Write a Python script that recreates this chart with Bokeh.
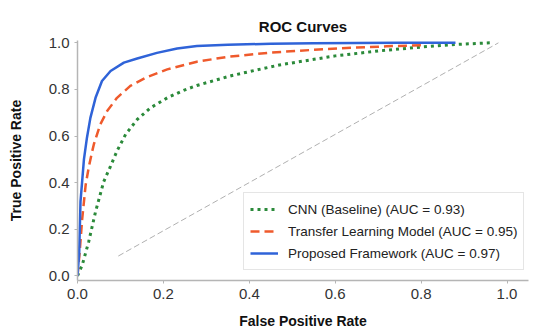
from bokeh.plotting import figure
from bokeh.models import FixedTicker, Range1d, Legend, LegendItem
from bokeh.embed import file_html
from bokeh.resources import INLINE

# ---- data ----
cnn_fpr = [0, 0.011, 0.026, 0.042, 0.061, 0.077, 0.092, 0.112, 0.139, 0.170, 0.209, 0.247, 0.278,
           0.36, 0.47, 0.6, 0.7, 0.8, 0.88, 0.96]
cnn_tpr = [0, 0.046, 0.146, 0.275, 0.404, 0.471, 0.536, 0.607, 0.671, 0.721, 0.764, 0.796, 0.817,
           0.86, 0.905, 0.944, 0.965, 0.982, 0.993, 1.0]

tl_fpr = [0, 0.005, 0.011, 0.019, 0.026, 0.034, 0.038, 0.053, 0.069, 0.092, 0.123, 0.162, 0.209,
          0.278, 0.35, 0.45, 0.55, 0.65, 0.72, 0.8]
tl_tpr = [0, 0.10, 0.246, 0.39, 0.464, 0.533, 0.564, 0.65, 0.707, 0.764, 0.815, 0.853, 0.886,
          0.919, 0.94, 0.958, 0.97, 0.98, 0.985, 0.99]

pf_fpr = [0, 0.004, 0.007, 0.015, 0.022, 0.030, 0.042, 0.057, 0.077, 0.108, 0.139, 0.185, 0.232,
          0.278, 0.35, 0.45, 0.55, 0.65, 0.75, 0.88]
pf_tpr = [0, 0.10, 0.32, 0.50, 0.593, 0.678, 0.764, 0.836, 0.879, 0.915, 0.933, 0.957, 0.976,
          0.986, 0.992, 0.996, 0.998, 0.999, 1.0, 1.0]

chance_x = [0.095, 0.98]
chance_y = [0.085, 1.0]

labels = ["CNN (Baseline) (AUC = 0.93)",
          "Transfer Learning Model (AUC = 0.95)",
          "Proposed Framework (AUC = 0.97)"]
ticks = [0.0, 0.2, 0.4, 0.6, 0.8, 1.0]
tick_labels = ["0.0", "0.2", "0.4", "0.6", "0.8", "1.0"]

FONT = "Liberation Sans"

p = figure(width=556, height=331,
           x_range=Range1d(0.0, 1.05), y_range=Range1d(-0.02, 1.01),
           output_backend="svg", toolbar_location=None,
           min_border_left=77, min_border_right=28,
           min_border_top=40, min_border_bottom=50,
           title="ROC Curves")

p.title.align = "center"
p.title.text_font = FONT
p.title.text_font_size = "15px"
p.title.text_font_style = "bold"
p.title.text_color = "#111111"
p.title.standoff = 12
p.title.offset = -23

p.outline_line_color = None
p.xgrid.visible = False
p.ygrid.visible = False

for ax in (p.xaxis[0], p.yaxis[0]):
    ax.ticker = FixedTicker(ticks=ticks)
    ax.major_label_overrides = {t: l for t, l in zip(ticks, tick_labels)}
    ax.axis_line_color = "#b5b5b5"
    ax.axis_line_width = 1.5
    ax.major_tick_line_color = "#b5b5b5"
    ax.major_tick_out = 3
    ax.major_tick_in = 0
    ax.minor_tick_line_color = None
    ax.major_label_text_font = FONT
    ax.major_label_text_font_size = "15px"
    ax.major_label_text_color = "#333333"
    ax.axis_label_text_font = FONT
    ax.axis_label_text_font_size = "14px"
    ax.axis_label_text_font_style = "bold"
    ax.axis_label_text_color = "#111111"

p.xaxis.axis_label = "False Positive Rate"
p.yaxis.axis_label = "True Positive Rate"
p.xaxis.major_label_standoff = 5
p.yaxis.major_label_standoff = 5
p.xaxis.axis_label_standoff = 11
p.yaxis.axis_label_standoff = 22

p.line(chance_x, chance_y, line_color="#b0b0b0", line_width=1, line_dash="6 3")
r_cnn = p.line(cnn_fpr, cnn_tpr, line_color="#2b8a3a", line_width=3, line_dash="3 4")
r_tl = p.line(tl_fpr, tl_tpr, line_color="#ef5a2c", line_width=2.5, line_dash="9 5")
r_pf = p.line(pf_fpr, pf_tpr, line_color="#2f63d8", line_width=2.5)

legend = Legend(items=[LegendItem(label=labels[0], renderers=[r_cnn]),
                       LegendItem(label=labels[1], renderers=[r_tl]),
                       LegendItem(label=labels[2], renderers=[r_pf])],
                location=(166, 10))
legend.label_text_font = FONT
legend.label_text_font_size = "13.5px"
legend.label_text_color = "#222222"
legend.border_line_color = "#cccccc"
legend.border_line_width = 1
legend.background_fill_color = "white"
legend.background_fill_alpha = 1.0
legend.padding = 6
legend.spacing = 2
legend.glyph_width = 28
legend.glyph_height = 20
legend.label_height = 20
legend.label_standoff = 10
legend.margin = 0
p.add_layout(legend, "center")

open("out.html", "w").write(file_html(p, INLINE))
